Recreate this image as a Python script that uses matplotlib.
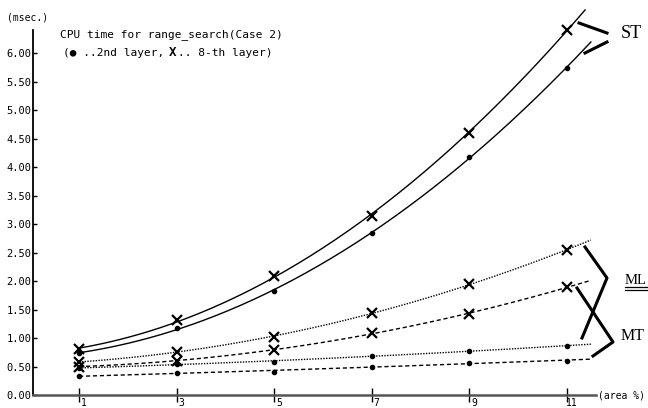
import numpy as np
import matplotlib
matplotlib.use("Agg")
import matplotlib.pyplot as plt
from matplotlib.lines import Line2D
import matplotlib.transforms as mtransforms

# values (msec.)
area = [1, 3, 5, 7, 9, 11]
st_8th = [0.80, 1.31, 2.09, 3.14, 4.60, 6.40]
st_2nd = [0.73, 1.18, 1.82, 2.84, 4.17, 5.74]
ml_8th = [0.58, 0.76, 1.02, 1.43, 1.95, 2.54]
ml_2nd = [0.47, 0.55, 0.58, 0.68, 0.78, 0.86]
mt_8th = [0.50, 0.60, 0.79, 1.09, 1.42, 1.89]
mt_2nd = [0.33, 0.39, 0.40, 0.50, 0.57, 0.60]

yticks = np.arange(0, 6.01, 0.5)
xticks = area

W, H = 648, 408
fig = plt.figure(figsize=(W / 100, H / 100), dpi=100)
ax = fig.add_axes([33 / W, 13 / H, 563 / W, 391 / H])
ax.set_xlim(0.056, 11.605)
ax.set_ylim(0, 6.86)

mono = 'DejaVu Sans Mono'
serif = 'Liberation Serif'


def fit_line(y, style, end):
    # smooth fitted curve, like the original plotter output
    coef = np.polyfit(area, y, 2)
    xs = np.linspace(1, end, 200)
    ax.plot(xs, np.polyval(coef, xs), color='k', lw=1.0,
            linestyle=style, clip_on=False)


fit_line(st_8th, '-', 11.38)
fit_line(st_2nd, '-', 11.5)
fit_line(ml_8th, (0, (1, 1)), 11.5)
fit_line(ml_2nd, (0, (1, 1)), 11.5)
fit_line(mt_8th, (0, (3, 2)), 11.5)
fit_line(mt_2nd, (0, (3, 2)), 11.5)

for y in (st_8th, ml_8th, mt_8th):
    ax.plot(area, y, 'x', color='k', ms=7, mew=1.6, clip_on=False)
for y in (st_2nd, ml_2nd, mt_2nd):
    ax.plot(area, y, 'o', color='k', ms=3, clip_on=False)

# axes styling
for s in ('top', 'right'):
    ax.spines[s].set_visible(False)
ax.spines['left'].set_bounds(0, 6.4)
ax.spines['left'].set_linewidth(1.3)
ax.spines['bottom'].set_linewidth(1.8)
ax.spines['bottom'].set_color('#555555')

ax.set_yticks(yticks)
ax.set_yticklabels([f'{v:.2f}' for v in yticks], fontfamily=mono, fontsize=7.5)
ax.set_xticks(xticks)
ax.set_xticklabels([str(v) for v in xticks], fontfamily=mono, fontsize=7)
ax.tick_params(axis='y', direction='in', length=3, width=1, pad=1)
ax.tick_params(axis='x', direction='inout', length=10, width=1, pad=-2.5)
shift = mtransforms.ScaledTranslation(5 / 100, 0, fig.dpi_scale_trans)
for lab in ax.get_xticklabels():
    lab.set_transform(lab.get_transform() + shift)


def fx(px, py):
    return (px / W, 1 - py / H)


fig.text(*fx(7, 17), '(msec.)', fontfamily=mono, fontsize=7, va='center')
fig.text(*fx(598, 396), '(area %)', fontfamily=mono, fontsize=7, va='center')

cw = 6.69  # mono char width at 8 pt
fig.text(*fx(60, 35), 'CPU time for range_search(Case 2)',
         fontfamily=mono, fontsize=8, va='center')
fig.text(*fx(63, 53), '(\u25cf ..2nd layer,',
         fontfamily=mono, fontsize=8, va='center')
fig.text(*fx(63 + 16 * cw - 1, 52), 'X', fontfamily=mono, fontsize=9,
         fontweight='bold', va='center')
fig.text(*fx(63 + 17 * cw + 1, 53), '.. 8-th layer)',
         fontfamily=mono, fontsize=8, va='center')

# bracket marks
brackets = [
    [(579, 23), (607, 33)],
    [(585, 53), (607, 42)],
    [(585, 247), (607, 278), (582, 338)],
    [(577, 288), (613, 342), (593, 356)],
]
for pts in brackets:
    xs = [p[0] / W for p in pts]
    ys = [1 - p[1] / H for p in pts]
    fig.add_artist(Line2D(xs, ys, color='k', lw=2.2, transform=fig.transFigure))

fig.text(*fx(621, 33), 'ST', fontfamily=serif, fontsize=13, va='center')
fig.text(*fx(625, 280), 'ML', fontfamily=serif, fontsize=10.5, va='center')
fig.add_artist(Line2D([625 / W, 647 / W], [1 - 287 / H] * 2, color='k', lw=0.9,
                      transform=fig.transFigure))
fig.add_artist(Line2D([625 / W, 647 / W], [1 - 290 / H] * 2, color='k', lw=0.9,
                      transform=fig.transFigure))
fig.text(*fx(621, 336), 'MT', fontfamily=serif, fontsize=11.5, va='center')

fig.savefig('out.png', dpi=100)
